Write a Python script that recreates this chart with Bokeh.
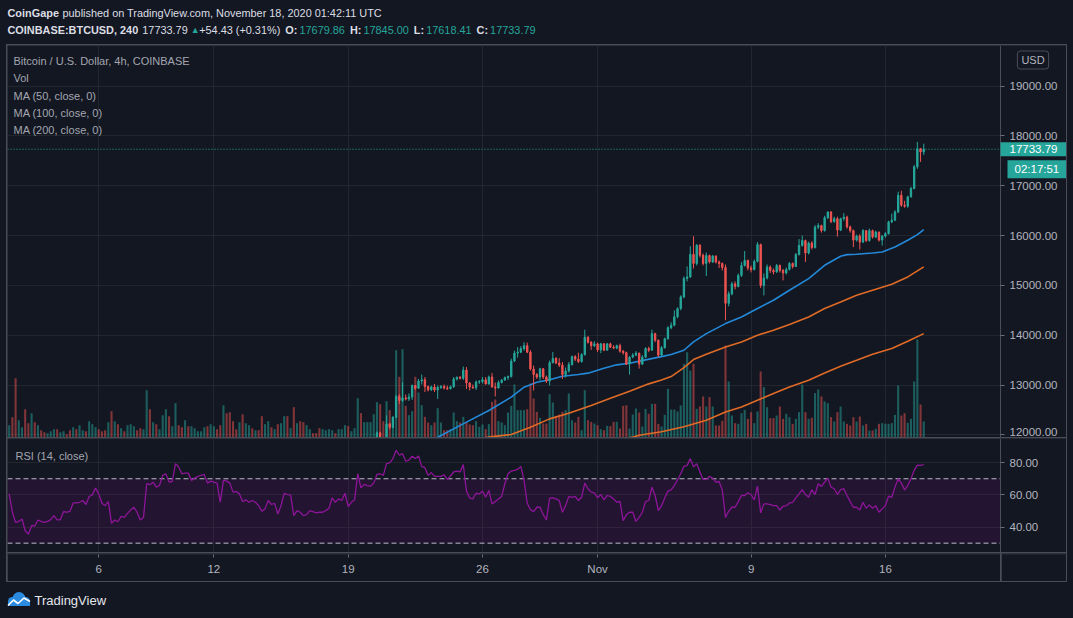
import pandas as pd
from bokeh.plotting import figure
from bokeh.layouts import column, row
from bokeh.models import (Range1d, FixedTicker, NumeralTickFormatter, Label, Span,
                          BoxAnnotation, ColumnDataSource)
from bokeh.embed import file_html
from bokeh.resources import INLINE

# ---------------------------------------------------------------- data
first_bar = "2020-10-01 08:00"      # first 4h bar shown
n_bars = 287                         # 4h bars up to 2020-11-18 00:00
candle_start = 112                   # bars before this lie below the visible price range
first_open = 11760

closes = [11800, 11850, 11900, 12040, 11930, 11900, 12220, 12150, 12350, 12770,
          12690, 12740, 12720, 12760, 12990, 12935, 13080, 13104, 12970, 12905,
          12960, 12900, 12950, 12970, 12940, 12925, 12965, 13120, 13155, 13135,
          13300, 13040, 12960, 12945, 13060, 13070, 13105, 13020, 13160, 12960,
          12940, 13050, 13100, 13150, 13170, 13480, 13640, 13660, 13730, 13790,
          13660, 13320, 13210, 13160, 13325, 13160, 13080, 13450, 13530, 13440,
          13400, 13210, 13280, 13410, 13570, 13520, 13470, 13610, 13960, 13860,
          13790, 13826, 13706, 13826, 13700, 13826, 13760, 13740, 13790, 13680,
          13650, 13420, 13560, 13600, 13640, 13420, 13560, 13730, 13700, 14030,
          13900, 13600, 13750, 13930, 14150, 14200, 14370, 14535, 14770, 15140,
          15170, 15625, 15440, 15805, 15605, 15440, 15600, 15470, 15590, 15470,
          15440, 15360, 14640, 14830, 15030, 14980, 15200, 15400, 15500, 15350,
          15320, 15480, 15820, 15000, 15150, 15370, 15300, 15270, 15400, 15300,
          15250, 15320, 15440, 15380, 15620, 15800, 15900, 15650, 15850, 15760,
          16170, 16200, 16100, 16360, 16475, 16280, 16340, 16110, 16340, 16370,
          16175, 16100, 15910, 15990, 15870, 16100, 15900, 16100, 15970, 16070,
          15910, 15990, 16040, 16275, 16310, 16475, 16810, 16610, 16590, 16780,
          16945, 17380, 17745, 17679.36, 17733.79]

highs = [11840, 11880, 11950, 12065, 12060, 11945, 12390, 12240, 12380, 12800,
         12820, 13050, 12810, 12830, 13010, 13000, 13120, 13210, 13160, 12990,
         12990, 13020, 12990, 13000, 13010, 12990, 12990, 13160, 13170, 13180,
         13370, 13360, 13060, 13010, 13090, 13100, 13160, 13160, 13190, 13240,
         13050, 13090, 13120, 13170, 13190, 13530, 13690, 13760, 13780, 13860,
         13850, 13700, 13390, 13240, 13345, 13340, 13190, 13490, 13660, 13560,
         13540, 13460, 13350, 13460, 13590, 13600, 13650, 13640, 14110, 13980,
         13880, 13880, 13850, 13845, 13840, 13840, 13850, 13800, 13810, 13830,
         13700, 13670, 13580, 13640, 13680, 13650, 13600, 13760, 13770, 14110,
         14050, 13910, 13780, 13950, 14180, 14260, 14500, 14560, 14800, 15180,
         15380, 15786, 15987, 15830, 15830, 15640, 15660, 15620, 15610, 15600,
         15500, 15460, 15420, 14880, 15070, 15080, 15240, 15470, 15690, 15520,
         15400, 15520, 15870, 15840, 15240, 15420, 15400, 15340, 15430, 15420,
         15330, 15360, 15470, 15460, 15650, 15930, 16000, 15920, 15880, 15890,
         16210, 16250, 16220, 16400, 16480, 16490, 16380, 16380, 16360, 16450,
         16400, 16200, 16120, 16020, 16030, 16130, 16110, 16140, 16120, 16100,
         16080, 16010, 16070, 16300, 16440, 16510, 16880, 16900, 16700, 16800,
         16980, 17420, 17880, 17760, 17845]

lows = [11740, 11780, 11830, 11880, 11900, 11860, 11880, 12110, 12130, 12330,
        12620, 12660, 12690, 12680, 12700, 12900, 12920, 13010, 12860, 12870,
        12880, 12860, 12720, 12920, 12910, 12900, 12910, 12940, 13090, 13110,
        13100, 12920, 12890, 12920, 12900, 13020, 13030, 13010, 13010, 12950,
        12770, 12930, 13030, 13080, 13100, 13150, 13460, 13550, 13640, 13690,
        13640, 13290, 12890, 13120, 13090, 13120, 13040, 12990, 13430, 13420,
        13360, 13120, 13150, 13250, 13390, 13480, 13440, 13450, 13590, 13830,
        13706, 13760, 13660, 13640, 13680, 13690, 13740, 13720, 13720, 13650,
        13610, 13400, 13210, 13540, 13580, 13330, 13400, 13540, 13660, 13690,
        13860, 13560, 13580, 13730, 13910, 14120, 14180, 14340, 14500, 14740,
        15080, 15150, 15340, 15400, 15560, 15400, 15190, 15440, 15450, 15440,
        15350, 15300, 14300, 14580, 14800, 14920, 14960, 15170, 15380, 15300,
        15260, 15300, 15460, 14950, 14800, 15120, 15250, 15220, 15250, 15260,
        15100, 15220, 15300, 15340, 15370, 15600, 15780, 15470, 15620, 15720,
        15740, 16130, 16060, 16080, 16330, 16250, 16260, 15980, 16090, 16300,
        16140, 16060, 15770, 15880, 15720, 15850, 15870, 15880, 15940, 15950,
        15880, 15800, 15960, 16020, 16250, 16290, 16450, 16580, 16560, 16560,
        16760, 16930, 17340, 17480, 17618.41]

volumes = [37, 61, 178, 52, 31, 85, 43, 73, 46, 37,
           22, 16, 13, 19, 25, 25, 16, 19, 10, 22,
           31, 25, 37, 22, 19, 49, 40, 31, 25, 19,
           22, 46, 79, 49, 40, 28, 19, 37, 40, 34,
           22, 28, 25, 142, 85, 46, 40, 25, 67, 85,
           64, 34, 103, 37, 31, 52, 34, 34, 28, 19,
           19, 31, 34, 40, 34, 25, 37, 97, 73, 76,
           49, 25, 46, 70, 43, 37, 28, 22, 22, 64,
           40, 49, 31, 25, 40, 43, 64, 64, 28, 91,
           43, 49, 46, 37, 25, 13, 13, 28, 25, 22,
           25, 22, 13, 25, 25, 37, 34, 19, 28, 118,
           73, 46, 46, 46, 70, 106, 100, 49, 109, 82,
           61, 262, 182, 265, 95, 67, 79, 182, 135, 97,
           62, 45, 37, 45, 88, 45, 22, 22, 25, 75,
           49, 45, 62, 47, 39, 37, 49, 32, 39, 25,
           40, 107, 114, 49, 45, 37, 75, 95, 159, 82,
           82, 82, 85, 162, 117, 77, 59, 42, 42, 130,
           105, 65, 69, 77, 82, 132, 52, 45, 62, 22,
           142, 52, 47, 42, 37, 25, 22, 35, 34, 47,
           47, 27, 95, 97, 27, 69, 87, 75, 33, 86,
           71, 101, 101, 41, 33, 68, 146, 84, 84, 78,
           96, 221, 256, 201, 221, 86, 93, 123, 93, 121,
           93, 36, 36, 50, 276, 168, 66, 43, 41, 73,
           83, 56, 76, 43, 78, 198, 151, 91, 58, 58,
           66, 93, 56, 71, 61, 41, 56, 76, 159, 76,
           56, 59, 133, 144, 123, 108, 103, 61, 48, 76,
           93, 48, 41, 36, 61, 48, 63, 36, 41, 21,
           21, 26, 41, 43, 41, 41, 43, 68, 156, 66,
           73, 44, 56, 168, 294, 99, 48]

# direction of the volume bars before candle_start (u = up, d = down)
vol_dir_early = ("udduuddudu" "dduuuduudd" "uduuduuudd" "dudududuuu" "dduududuuu"
                 "duudduduuu" "uuduuddudd" "dduduududd" "uududuudud" "udduuddduu"
                 "uuduuuduuu" "du")

rsi_values = [60.6, 49.2, 42.9, 43.5, 45.0, 37.7, 35.6, 40.8, 40.8, 44.4,
              43.5, 42.9, 43.5, 44.6, 47.1, 44.4, 44.6, 49.6, 49.2, 49.8,
              55.0, 55.0, 55.4, 56.5, 54.0, 59.0, 60.0, 64.2, 60.6, 54.8,
              53.3, 55.8, 42.3, 44.4, 43.3, 46.7, 46.0, 48.5, 50.6, 52.3,
              49.2, 44.4, 46.0, 66.9, 66.3, 67.9, 64.8, 65.8, 72.1, 73.1,
              67.9, 68.3, 79.4, 77.3, 73.1, 73.5, 73.5, 69.0, 70.4, 71.5,
              72.1, 72.7, 67.3, 68.5, 67.9, 67.3, 55.4, 69.0, 68.5, 67.3,
              61.7, 62.1, 60.6, 55.8, 56.9, 55.4, 56.5, 55.4, 53.3, 49.8,
              51.3, 56.5, 54.0, 54.8, 48.1, 53.3, 61.0, 60.2, 60.0, 47.1,
              50.2, 49.2, 47.1, 47.7, 50.2, 49.6, 48.8, 49.2, 49.2, 50.2,
              51.7, 58.1, 55.4,
              57.5, 56.5, 61.0, 52.7, 55.4, 56.9, 73.1, 64.4, 66.5, 65.8,
              65.4, 67.3, 72.7, 73.1, 72.1, 79.4, 79.8, 82.5, 87.7, 84.6,
              85.6, 81.0, 81.5, 84.0, 82.5, 84.2, 77.7, 76.9, 72.1, 73.8,
              71.5, 71.5, 71.5, 72.5, 69.6, 71.7, 74.2, 74.8, 74.2, 78.8,
              62.3, 58.1, 57.5, 61.0, 60.6, 62.3, 58.5, 62.7, 54.4, 55.8,
              57.5, 59.0, 66.9, 73.1, 74.8, 75.2, 75.8, 77.7, 69.0, 54.8,
              50.8, 49.6, 52.3, 52.3, 47.7, 44.4, 57.9, 58.1, 57.5, 56.5,
              49.2, 53.3, 59.0, 58.5, 59.0, 56.5, 58.5, 67.3, 63.8, 61.7,
              61.3, 58.1, 60.2, 56.9, 59.6, 59.0, 57.5, 55.4, 56.0, 44.0,
              47.7, 49.2, 49.2, 43.5, 46.0, 49.2, 55.8, 56.5, 64.8, 59.6,
              50.2,
              53.3, 58.1, 62.3, 63.1, 65.8, 69.4, 73.1, 77.7, 78.3, 82.5,
              77.3, 79.4, 74.2, 69.6, 69.6, 71.5, 70.4, 67.9, 68.3, 63.1,
              46.0, 49.8, 52.3, 52.3, 55.8, 59.6, 59.6, 61.3, 60.2, 56.9,
              65.4, 48.8, 54.4, 54.4, 54.0, 53.3, 53.3, 50.6, 52.9, 53.3,
              55.0, 55.4, 58.1, 60.6, 63.3, 60.2, 58.5, 63.1, 60.2, 66.9,
              65.2, 67.9, 70.4, 64.8, 63.8, 60.2, 63.3, 63.8, 59.6, 55.8,
              52.3, 52.3, 50.6, 55.4, 51.7, 53.8, 51.7, 53.3, 49.2, 51.3,
              53.3, 59.2, 58.5, 64.8, 70.0, 67.3, 63.1, 65.8, 70.0, 75.2,
              78.5, 78.3, 78.8]

ma50_bar = [130, 134, 143, 150, 157, 161, 165, 169, 173, 178, 181, 186, 190, 194, 199, 204,
            207, 211, 214, 218, 224, 229, 234, 239, 244, 250, 255, 260, 262, 265, 270, 273,
            277, 281, 284, 286]
ma50_val = [11890, 11950, 12254, 12488, 12756, 12956, 13057, 13104, 13177, 13211, 13238,
            13338, 13405, 13438, 13505, 13570, 13612, 13698, 13865, 14032, 14233, 14367,
            14535, 14702, 14902, 15137, 15404, 15585, 15618, 15625, 15652, 15672, 15772,
            15906, 16020, 16120]
ma100_bar = [145, 150, 157, 163, 169, 175, 182, 188, 194, 200, 204, 207, 211, 214, 218, 224,
             229, 234, 239, 244, 250, 255, 260, 265, 270, 276, 281, 286]
ma100_val = [11900, 11953, 12006, 12153, 12320, 12434, 12588, 12735, 12876, 13023, 13100,
             13170, 13350, 13510, 13618, 13765, 13865, 14000, 14100, 14213, 14367, 14535,
             14668, 14802, 14902, 15023, 15170, 15371]
ma200_bar = [190, 195, 197, 204, 211, 218, 224, 229, 234, 239, 244, 250, 255, 260, 265, 270,
             276, 281, 286]
ma200_val = [11900, 11953, 11990, 12060, 12160, 12293, 12460, 12560, 12694, 12829, 12962,
             13096, 13243, 13377, 13497, 13618, 13731, 13878, 14032]

tick_days = [5, 11, 18, 25, 31, 39, 46]          # days after 2020-10-01
tick_labels = ["6", "12", "19", "26", "Nov", "9", "16"]
price_ticks = [12000, 13000, 14000, 15000, 16000, 17000, 18000, 19000]
rsi_ticks = [40, 60, 80]

header_ohlc = [("O:", "17679.86"), ("H:", "17845.00"), ("L:", "17618.41"), ("C:", "17733.79")]
header_change = "+54.43 (+0.31%)"
countdown = "02:17:51"

# ---------------------------------------------------------------- style
BG = "#131722"
BORDER = "#4a4d57"
GRID = "#22262f"
TXT = "#b2b5be"
LEG = "#a3a6af"
WHITE = "#dcdee4"
UP = "#26a69a"
DN = "#ef5350"
FONT = "Liberation Sans"

# Arial / Liberation Sans advance widths (1/1000 em) used to lay out header text runs
W_REG = dict(zip("abcdeghilmnoprsuvwCGTVNUOHL .,:()+%0123456789",
                 [556, 556, 500, 556, 556, 556, 556, 222, 222, 833, 556, 556, 556, 333, 500,
                  556, 500, 722, 722, 778, 611, 667, 722, 722, 778, 722, 556, 278, 278, 278,
                  278, 333, 333, 584, 889] + [556] * 10))
W_BOLD = dict(zip("aeinopCGOINBASETUDHL:, 0123456789",
                  [556, 556, 278, 611, 611, 611, 722, 778, 778, 278, 722, 722, 722, 667, 667,
                   611, 722, 722, 722, 611, 333, 278, 278] + [556] * 10))


def text_width(s, size, bold=False):
    table = W_BOLD if bold else W_REG
    return sum(table.get(ch, 600) for ch in s) * size / 1000.0


# ---------------------------------------------------------------- derived
times = pd.date_range(first_bar, periods=n_bars, freq="4h")
origin = pd.Timestamp("2020-10-01 00:00")
xday = [(t - origin) / pd.Timedelta(days=1) for t in times]
bar_w = 1.0 / 6.0

opens = [first_open] + closes[:-1]
cx = xday[candle_start:]
ccol = [UP if c >= o else DN for o, c in zip(opens, closes)]
csrc = ColumnDataSource(dict(x=cx, o=opens, h=highs, l=lows, c=closes,
                             top=[max(o, c) for o, c in zip(opens, closes)],
                             bot=[min(o, c) for o, c in zip(opens, closes)],
                             col=ccol))
vcol = [UP if d == "u" else DN for d in vol_dir_early] + ccol
vsrc = ColumnDataSource(dict(x=xday, v=volumes, col=vcol))

X_LEFT, X_AXIS, X_RIGHT = 0.2447, 52.0, 55.44      # frame left, price-scale line, frame right
xr_full = Range1d(X_LEFT, X_RIGHT)
xr_time = Range1d(X_LEFT, X_AXIS)


def base_fig(w, h, **kw):
    return figure(width=w, height=h, output_backend="svg", toolbar_location=None,
                  background_fill_color=BG, border_fill_color=BG, outline_line_color=None,
                  min_border_left=0, min_border_top=0, min_border_bottom=0,
                  min_border_right=0, **kw)


def style_price_axis(p, ticks):
    ax = p.yaxis[0]
    ax.ticker = FixedTicker(ticks=ticks)
    ax.fixed_location = X_AXIS
    ax.axis_line_color = BORDER
    ax.major_tick_line_color = "#6a6d78"
    ax.major_tick_out = 4
    ax.major_tick_in = 0
    ax.minor_tick_line_color = None
    ax.major_label_text_color = TXT
    ax.major_label_text_font = FONT
    ax.major_label_text_font_size = "11.5px"
    ax.major_label_standoff = 5
    ax.formatter = NumeralTickFormatter(format="0.00")
    return ax


def cover_scale_area(p):
    p.add_layout(BoxAnnotation(left=X_AXIS, fill_color=BG, fill_alpha=1.0,
                               line_color=None, level="underlay"))


def make_label(text, x, y, size="11px", color=LEG, **kw):
    return Label(x=x, y=y, x_units=kw.pop("x_units", "screen"),
                 y_units=kw.pop("y_units", "screen"), text=text, text_font=FONT,
                 text_font_size=size, text_color=color,
                 text_baseline=kw.pop("text_baseline", "middle"), **kw)


def set_padding(lbl, l, r, t, b):
    try:
        lbl.padding = dict(left=l, right=r, top=t, bottom=b)
    except Exception:
        lbl.padding = (t, l)


# ---------------------------------------------------------------- header
header = base_fig(1073, 44, x_range=Range1d(0, 1073), y_range=Range1d(0, 44),
                  x_axis_location=None, y_axis_location=None)
header.grid.visible = False
HS = 10.9


def flow(runs, x0, y):
    x = x0
    for text, color, bold, gap, size in runs:
        header.add_layout(make_label(text, x, y, size=f"{size}px", color=color,
                                     text_font_style="bold" if bold else "normal"))
        x += text_width(text, size, bold) + gap


flow([("CoinGape", WHITE, True, 3.5, HS),
      ("published on TradingView.com, November 18, 2020 01:42:11 UTC", WHITE, False, 0, HS)],
     7, 31.3)
runs2 = [("COINBASE:BTCUSD, 240", WHITE, True, 4, HS),
         (f"{closes[-1]:.2f}", WHITE, False, 3, HS),
         ("\u25B2", UP, False, 3, 9),
         (header_change, WHITE, False, 5, HS)]
for k, v in header_ohlc:
    runs2.append((k, WHITE, True, 2, HS))
    runs2.append((v, UP, False, 5, HS))
flow(runs2, 7, 14.7)

# ---------------------------------------------------------------- main price pane
main = base_fig(1059, 392, x_range=xr_full, y_range=Range1d(11946, 19817),
                x_axis_location=None, y_axis_location="right")
main.extra_y_ranges = {"vol": Range1d(0, 1176)}
main.xgrid.ticker = FixedTicker(ticks=tick_days)
main.grid.grid_line_color = GRID
pax = style_price_axis(main, price_ticks)
# the lowest price label sits on the pane edge: it is drawn a little higher, as in the chart
pax.major_label_overrides = {price_ticks[0]: ""}

main.add_layout(Span(location=closes[-1], dimension="width", line_color=UP,
                     line_dash="1 2", line_width=1, level="underlay"))
cover_scale_area(main)

main.vbar(x="x", width=bar_w * 0.65, top="v", bottom=0, y_range_name="vol",
          fill_color="col", fill_alpha=0.5, line_color=None, source=vsrc)
main.line([xday[i] for i in ma200_bar], ma200_val, line_color="#e06b26", line_width=1.6)
main.line([xday[i] for i in ma100_bar], ma100_val, line_color="#e06b26", line_width=1.6)
main.line([xday[i] for i in ma50_bar], ma50_val, line_color="#2389d8", line_width=1.6)
main.segment(x0="x", y0="l", x1="x", y1="h", line_color="col", line_width=1, source=csrc)
main.vbar(x="x", width=bar_w * 0.42, top="top", bottom="bot", fill_color="col",
          line_color="col", line_width=1, source=csrc)

for txt, y in [("Bitcoin / U.S. Dollar, 4h, COINBASE", 376.3), ("Vol", 359.3),
               ("MA (50, close, 0)", 342), ("MA (100, close, 0)", 324.7),
               ("MA (200, close, 0)", 308)]:
    main.add_layout(make_label(txt, 6, y))

main.add_layout(make_label(f"{price_ticks[0]:.2f}", X_AXIS, price_ticks[0], size="11.5px",
                           color=TXT, x_units="data", y_units="data", text_align="left",
                           x_offset=9, y_offset=3))

usd = make_label("USD", 1025.5, 377.5, size="11px", color=TXT, text_align="center",
                 border_line_color=BORDER, border_radius=3)
set_padding(usd, 4, 4, 3, 3)
main.add_layout(usd)

tag = make_label(f"{closes[-1]:.2f}", X_AXIS, closes[-1], size="11.5px", color="#ffffff",
                 x_units="data", y_units="data", text_align="left",
                 background_fill_color=UP)
set_padding(tag, 9, 9, 3, 3)
main.add_layout(tag)
cd = make_label(countdown, X_AXIS, closes[-1], size="11.5px", color="#ffffff",
                x_units="data", y_units="data", text_align="left", x_offset=7, y_offset=-20,
                background_fill_color=UP)
set_padding(cd, 7, 7, 3, 3)
main.add_layout(cd)

# ---------------------------------------------------------------- RSI pane
rsi = base_fig(1059, 114, x_range=xr_full, y_range=Range1d(24.2, 95),
               x_axis_location=None, y_axis_location="right")
rsi.xgrid.ticker = FixedTicker(ticks=tick_days)
rsi.grid.grid_line_color = GRID
style_price_axis(rsi, rsi_ticks)
rsi.add_layout(BoxAnnotation(bottom=30, top=70, fill_color="#9b00a1", fill_alpha=0.12,
                             line_color=None, level="underlay"))
for lvl in (70, 30):
    rsi.add_layout(Span(location=lvl, dimension="width", line_color="#b8bbc4",
                        line_dash="5 3", line_width=1, level="underlay"))
cover_scale_area(rsi)
rsi.line(xday, rsi_values, line_color="#8e1599", line_width=1.3)
rsi.add_layout(make_label("RSI (14, close)", 8, 97))

# ---------------------------------------------------------------- time axis row
tfig = base_fig(993, 28, x_range=xr_time, y_range=Range1d(0, 1), y_axis_location=None,
                x_axis_location="below")
tfig.min_border_bottom = 27
tfig.grid.visible = False
tax = tfig.xaxis[0]
tax.ticker = FixedTicker(ticks=tick_days)
tax.major_label_overrides = {d: s for d, s in zip(tick_days, tick_labels)}
tax.axis_line_color = None
tax.major_tick_line_color = "#6a6d78"
tax.major_tick_out = 3
tax.major_tick_in = 0
tax.minor_tick_line_color = None
tax.major_label_text_color = TXT
tax.major_label_text_font = FONT
tax.major_label_text_font_size = "11.5px"
tax.major_label_standoff = 5

blank = base_fig(65, 28, x_range=Range1d(0, 1), y_range=Range1d(0, 1),
                 x_axis_location=None, y_axis_location=None)
blank.grid.visible = False

# ---------------------------------------------------------------- footer (logo)
footer = base_fig(1073, 35, x_range=Range1d(0, 1073), y_range=Range1d(0, 35),
                  x_axis_location=None, y_axis_location=None)
footer.grid.visible = False
LOGO = "#2a8be0"
footer.circle(x=[12, 18.5, 25], y=[16, 19, 16], radius=[4.5, 6.5, 4.5],
              fill_color=LOGO, line_color=None)
footer.quad(left=[7.5], right=[29.5], bottom=[11.5], top=[16], fill_color=LOGO,
            line_color=None)
footer.line(x=[7.5, 13, 17.5, 23.5, 29.5], y=[12, 17.5, 14, 19.5, 16], line_color="#ffffff",
            line_width=1.6)
footer.add_layout(make_label("TradingView", 34, 17.5, size="13px", color="#e4e6ec"))

# ---------------------------------------------------------------- layout
trow = row(tfig, blank, spacing=1)
chart = column(main, rsi, trow, spacing=1,
               styles={"background-color": BORDER, "padding": "1px", "margin-left": "6px"})
page = column(header, chart, footer, spacing=0, styles={"background-color": BG})

html = file_html(page, INLINE, title="BTCUSD 4h")
html = html.replace("<head>", "<head>\n<style>html, body { background-color: #131722; }</style>", 1)
open("out.html", "w").write(html)
